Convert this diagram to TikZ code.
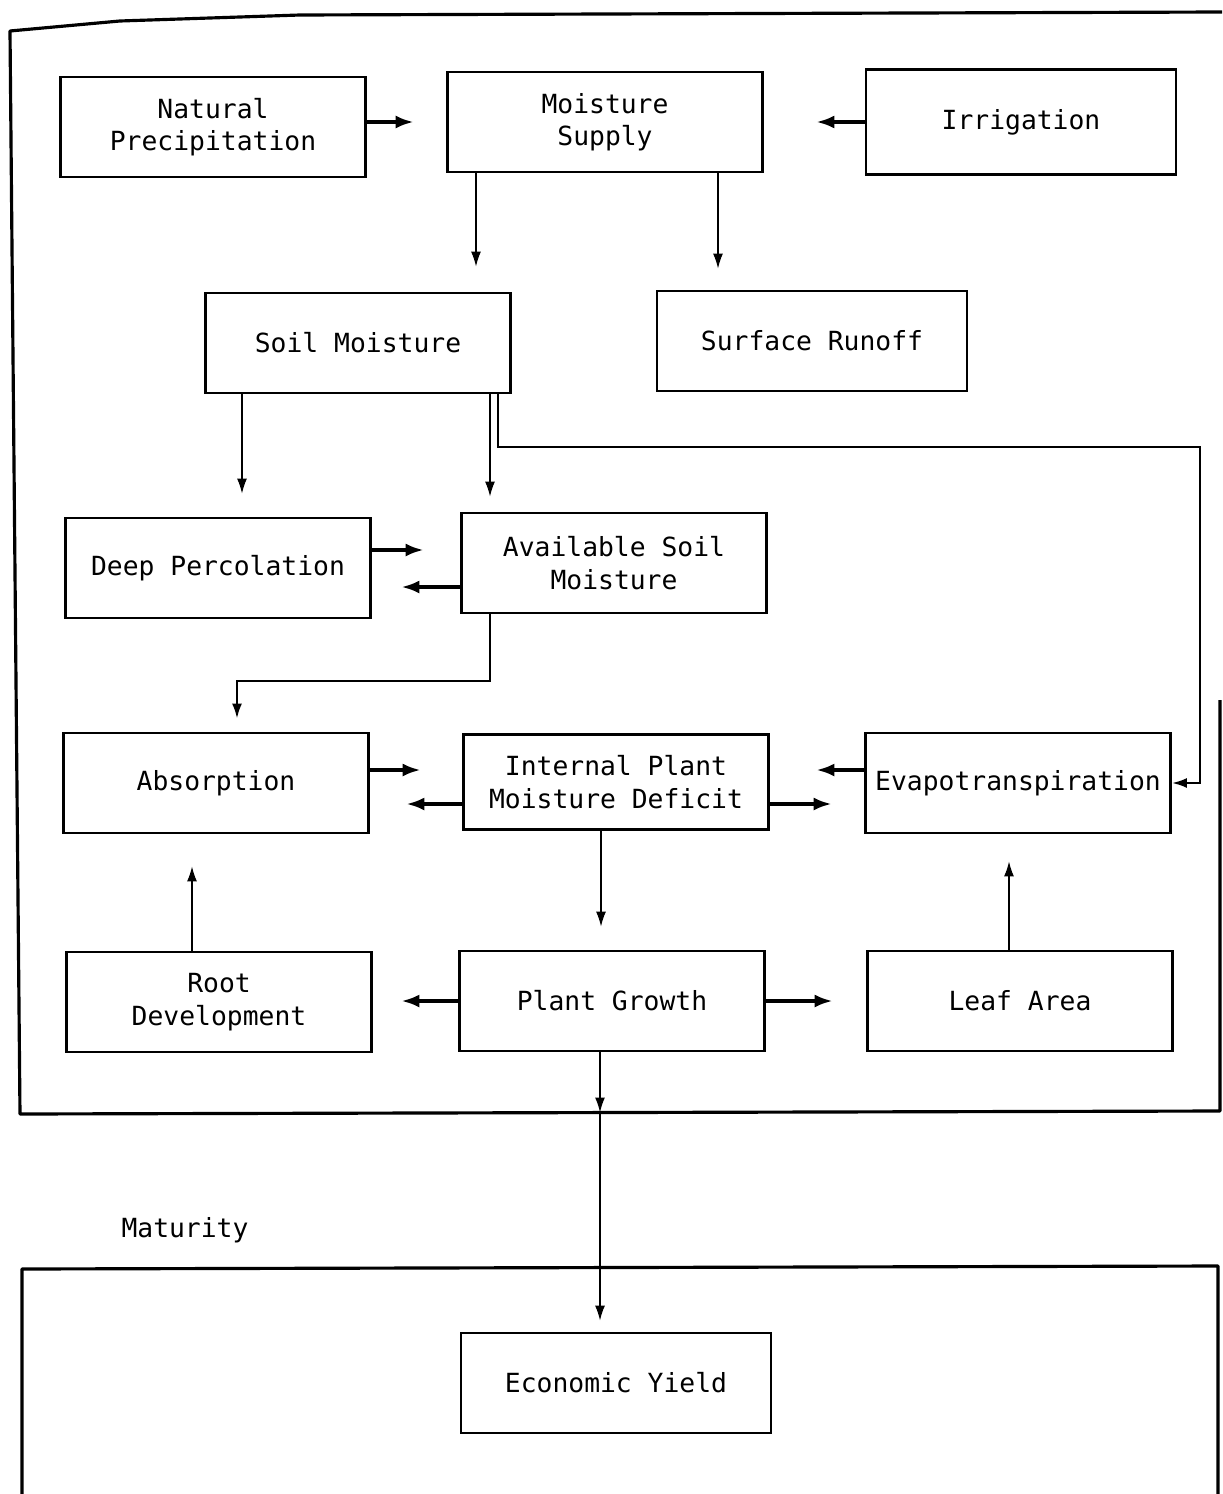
\documentclass[tikz,border=0pt]{standalone}
\usepackage{fontspec}
\setmonofont{DejaVu Sans Mono}
\usetikzlibrary{arrows.meta,calc}

\begin{document}
\begin{tikzpicture}
  [procbox/.style={draw,line width=1.6pt,minimum width=6.1cm,minimum height=2cm,
                   inner sep=2pt,align=center,font=\ttfamily\fontsize{15}{18.5}\selectfont},
   vflow/.style={->,line width=0.8pt},
   hflow/.style={-{Latex[length=3.6mm,width=2.6mm]},line width=1.9pt},
   frame/.style={line width=1.8pt,line join=round},
   >={Latex[length=3mm,width=2mm]}]

  \useasboundingbox (0,0) rectangle (24.44,-29.88);

  % outer frames
  \draw [frame] (24.40,-14.0) -- (24.40,-22.22) -- (0.40,-22.28) -- (0.20,-0.62)
                -- (2.4,-0.42) -- (6.0,-0.30) -- (24.44,-0.24);
  \draw [frame] (0.44,-29.88) -- (0.44,-25.38) -- (24.36,-25.32) -- (24.36,-29.88);

  \node at (4.26,-2.54)   [procbox] (natprec) {Natural\\Precipitation};
  \node at (12.10,-2.44)  [procbox,minimum width=6.3cm] (supply) {Moisture\\Supply};
  \node at (20.42,-2.44)  [procbox,minimum width=6.2cm,minimum height=2.1cm] (irrig) {Irrigation};
  \node at (7.16,-6.86)   [procbox] (soil)   {Soil Moisture};
  \node at (16.24,-6.82)  [procbox,minimum width=6.2cm] (runoff) {Surface Runoff};
  \node at (4.36,-11.36)  [procbox] (deep)   {Deep Percolation};
  \node at (12.28,-11.26) [procbox] (avail)  {Available Soil\\Moisture};
  \node at (4.32,-15.66)  [procbox] (absorb) {Absorption};
  \node at (12.32,-15.64) [procbox,minimum height=1.9cm] (deficit) {Internal Plant\\Moisture Deficit};
  \node at (20.36,-15.66) [procbox] (evapo)  {Evapotranspiration};
  \node at (4.38,-20.04)  [procbox] (root)   {Root\\Development};
  \node at (12.24,-20.02) [procbox] (growth) {Plant Growth};
  \node at (20.40,-20.02) [procbox] (leaf)   {Leaf Area};
  \node at (12.32,-27.66) [procbox,minimum width=6.2cm] (yield) {Economic Yield};
  \node at (3.70,-24.60)  [font=\ttfamily\fontsize{15}{18.5}\selectfont] (maturity) {Maturity};

  \coordinate (etturn) at (24.0,-8.94);
  \coordinate (abturn) at (4.74,-13.62);
  \coordinate (exit)   at (12.0,-22.25);

  % supply
  \draw [hflow,shorten >=0.65cm] ([yshift=1mm]natprec.east) -- ([yshift=1mm]natprec.east -| supply.west);
  \draw [hflow,shorten >=1.05cm] (irrig.west) -- (irrig.west -| supply.east);
  \draw [vflow,shorten >=0.50cm] ([xshift=-2.58cm]supply.south) -- ([xshift=-2.58cm]supply.south |- soil.north);
  \draw [vflow,shorten >=0.42cm] ([xshift=2.26cm]supply.south) -- ([xshift=2.26cm]supply.south |- runoff.north);

  % soil moisture
  \draw [vflow,shorten >=0.46cm] ([xshift=-2.32cm]soil.south) -- ([xshift=-2.32cm]soil.south |- deep.north);
  \draw [vflow,shorten >=0.30cm] ([xshift=2.64cm]soil.south) -- ([xshift=2.64cm]soil.south |- avail.north);
  \draw [->,line width=1.3pt] ([xshift=2.80cm]soil.south) |- (etturn) |- (evapo.east);
  \draw [hflow,shorten >=0.73cm] ([yshift=0.36cm]deep.east) -- ([yshift=0.36cm]deep.east -| avail.west);
  \draw [hflow,shorten >=0.59cm] ([yshift=-0.48cm]avail.west) -- ([yshift=-0.48cm]avail.west -| deep.east);
  \draw [->,line width=1.3pt,shorten >=0.26cm] ([xshift=-2.48cm]avail.south) |- (abturn) -- (abturn |- absorb.north);

  % plant
  \draw [hflow,shorten >=0.83cm] ([yshift=0.26cm]absorb.east) -- ([yshift=0.26cm]absorb.east -| deficit.west);
  \draw [hflow,shorten >=0.73cm] ([yshift=-0.44cm]deficit.west) -- ([yshift=-0.44cm]deficit.west -| absorb.east);
  \draw [hflow,shorten >=0.93cm] ([yshift=0.26cm]evapo.west) -- ([yshift=0.26cm]evapo.west -| deficit.east);
  \draw [hflow,shorten >=0.65cm] ([yshift=-0.44cm]deficit.east) -- ([yshift=-0.44cm]deficit.east -| evapo.west);
  \draw [vflow,shorten >=0.46cm] ([xshift=-0.30cm]deficit.south) -- ([xshift=-0.30cm]deficit.south |- growth.north);
  \draw [vflow,shorten >=0.64cm] ([xshift=-0.54cm]root.north) -- ([xshift=-0.54cm]root.north |- absorb.south);
  \draw [vflow,shorten >=0.54cm] ([xshift=-0.22cm]leaf.north) -- ([xshift=-0.22cm]leaf.north |- evapo.south);
  \draw [hflow,shorten >=0.57cm] (growth.west) -- (growth.west -| root.east);
  \draw [hflow,shorten >=0.67cm] (growth.east) -- (growth.east -| leaf.west);

  % yield
  \draw [vflow] ([xshift=-0.24cm]growth.south) -- (exit);
  \draw [vflow,shorten >=0.22cm] (exit) -- (exit |- yield.north);
\end{tikzpicture}
\end{document}
